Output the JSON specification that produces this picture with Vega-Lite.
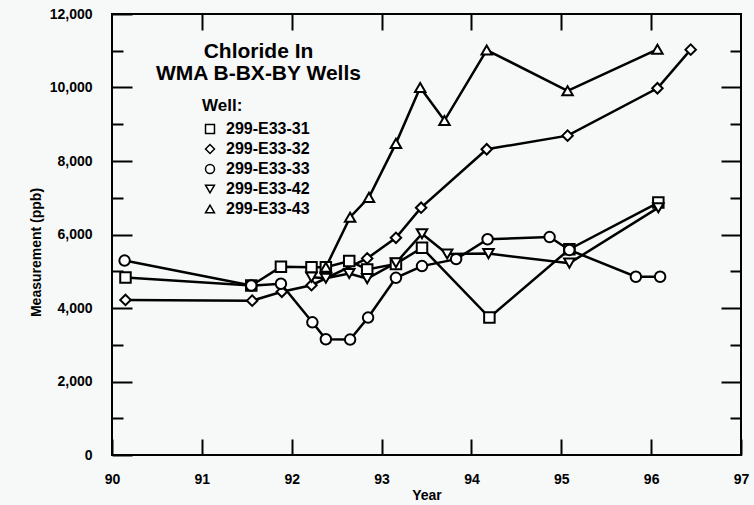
{
  "$schema": "https://vega.github.io/schema/vega-lite/v6.json",
  "width": 629,
  "height": 441,
  "autosize": "none",
  "padding": {"left": 112, "top": 14, "right": 13, "bottom": 50},
  "background": "#f7f9f9",
  "config": {
    "view": {"stroke": "black", "strokeWidth": 2},
    "font": "Liberation Sans",
    "axis": {"grid": false, "domain": false, "tickColor": "black", "tickWidth": 2, "labelColor": "black", "titleColor": "black", "labelFont": "Liberation Sans", "titleFont": "Liberation Sans", "labelFontWeight": "bold", "titleFontWeight": "bold", "labelFontSize": 14, "titleFontSize": 14}
  },
  "title": {
    "text": ["Chloride In", "WMA B-BX-BY Wells"],
    "anchor": "middle",
    "frame": "group",
    "baseline": "top",
    "offset": 0,
    "dx": -168,
    "dy": 77,
    "fontSize": 21,
    "lineHeight": 22,
    "font": "Liberation Sans",
    "fontWeight": "bold",
    "color": "black"
  },
  "data": {
    "values": [
      {"well": "299-E33-31", "year": 90.15, "ppb": 4830},
      {"well": "299-E33-31", "year": 91.55, "ppb": 4610},
      {"well": "299-E33-31", "year": 91.88, "ppb": 5120},
      {"well": "299-E33-31", "year": 92.22, "ppb": 5110},
      {"well": "299-E33-31", "year": 92.38, "ppb": 5110},
      {"well": "299-E33-31", "year": 92.64, "ppb": 5280},
      {"well": "299-E33-31", "year": 92.84, "ppb": 5050},
      {"well": "299-E33-31", "year": 93.16, "ppb": 5200},
      {"well": "299-E33-31", "year": 93.45, "ppb": 5640},
      {"well": "299-E33-31", "year": 94.2, "ppb": 3740},
      {"well": "299-E33-31", "year": 95.09, "ppb": 5600},
      {"well": "299-E33-31", "year": 96.08, "ppb": 6870},
      {"well": "299-E33-32", "year": 90.15, "ppb": 4220},
      {"well": "299-E33-32", "year": 91.56, "ppb": 4200},
      {"well": "299-E33-32", "year": 91.89, "ppb": 4440},
      {"well": "299-E33-32", "year": 92.22, "ppb": 4620},
      {"well": "299-E33-32", "year": 92.84, "ppb": 5350},
      {"well": "299-E33-32", "year": 93.16, "ppb": 5910},
      {"well": "299-E33-32", "year": 93.44, "ppb": 6730},
      {"well": "299-E33-32", "year": 94.17, "ppb": 8320},
      {"well": "299-E33-32", "year": 95.07, "ppb": 8690},
      {"well": "299-E33-32", "year": 96.07, "ppb": 9980},
      {"well": "299-E33-32", "year": 96.44, "ppb": 11030},
      {"well": "299-E33-33", "year": 90.14, "ppb": 5290},
      {"well": "299-E33-33", "year": 91.55, "ppb": 4610},
      {"well": "299-E33-33", "year": 91.88, "ppb": 4660},
      {"well": "299-E33-33", "year": 92.23, "ppb": 3610},
      {"well": "299-E33-33", "year": 92.38, "ppb": 3150},
      {"well": "299-E33-33", "year": 92.65, "ppb": 3140},
      {"well": "299-E33-33", "year": 92.85, "ppb": 3740},
      {"well": "299-E33-33", "year": 93.16, "ppb": 4820},
      {"well": "299-E33-33", "year": 93.45, "ppb": 5140},
      {"well": "299-E33-33", "year": 93.83, "ppb": 5330},
      {"well": "299-E33-33", "year": 94.18, "ppb": 5870},
      {"well": "299-E33-33", "year": 94.87, "ppb": 5930},
      {"well": "299-E33-33", "year": 95.09, "ppb": 5580},
      {"well": "299-E33-33", "year": 95.83, "ppb": 4850},
      {"well": "299-E33-33", "year": 96.1, "ppb": 4850},
      {"well": "299-E33-42", "year": 92.22, "ppb": 4840},
      {"well": "299-E33-42", "year": 92.38, "ppb": 4810},
      {"well": "299-E33-42", "year": 92.64, "ppb": 4940},
      {"well": "299-E33-42", "year": 92.84, "ppb": 4800},
      {"well": "299-E33-42", "year": 93.16, "ppb": 5230},
      {"well": "299-E33-42", "year": 93.45, "ppb": 6020},
      {"well": "299-E33-42", "year": 93.73, "ppb": 5470},
      {"well": "299-E33-42", "year": 94.19, "ppb": 5480},
      {"well": "299-E33-42", "year": 95.09, "ppb": 5220},
      {"well": "299-E33-42", "year": 96.08, "ppb": 6730},
      {"well": "299-E33-43", "year": 92.38, "ppb": 5110},
      {"well": "299-E33-43", "year": 92.65, "ppb": 6470},
      {"well": "299-E33-43", "year": 92.86, "ppb": 7010},
      {"well": "299-E33-43", "year": 93.16, "ppb": 8480},
      {"well": "299-E33-43", "year": 93.43, "ppb": 10000},
      {"well": "299-E33-43", "year": 93.7, "ppb": 9100},
      {"well": "299-E33-43", "year": 94.17, "ppb": 11020},
      {"well": "299-E33-43", "year": 95.07, "ppb": 9910},
      {"well": "299-E33-43", "year": 96.07, "ppb": 11040}
    ]
  },
  "layer": [
    {
      "mark": {"type": "line", "color": "black", "strokeWidth": 2.5},
      "encoding": {
        "x": {"field": "year", "type": "quantitative", "scale": {"domain": [90, 97], "nice": false, "zero": false}, "axis": null},
        "y": {"field": "ppb", "type": "quantitative", "scale": {"domain": [0, 12000], "nice": false}, "axis": null},
        "detail": {"field": "well"}
      }
    },
    {
      "mark": {"type": "point", "filled": true, "fill": "white", "stroke": "black", "strokeWidth": 2, "size": 110, "opacity": 1},
      "encoding": {
        "x": {"field": "year", "type": "quantitative", "title": "Year",
          "axis": {"orient": "bottom", "values": [90, 91, 92, 93, 94, 95, 96, 97], "tickSize": -16, "labelPadding": 33, "labelFlush": false, "titleY": 40, "titleBaseline": "middle"}},
        "y": {"field": "ppb", "type": "quantitative", "title": "Measurement (ppb)",
          "axis": {"orient": "left", "values": [0, 1000, 2000, 3000, 4000, 5000, 6000, 7000, 8000, 9000, 10000, 11000, 12000], "labelExpr": "datum.value % 2000 == 0 ? format(datum.value, ',') : ''",
            "tickSize": {"condition": {"test": "datum.value % 2000 == 0", "value": -20}, "value": -11},
            "labelPadding": 40, "titleX": -76, "titleY": 238, "titleAngle": -90, "titleAlign": "center", "titleBaseline": "middle"}},
        "shape": {"field": "well", "type": "nominal",
          "scale": {"domain": ["299-E33-31", "299-E33-32", "299-E33-33", "299-E33-42", "299-E33-43"], "range": ["square", "diamond", "circle", "triangle-down", "triangle-up"]},
          "legend": {"title": "Well:", "orient": "none", "legendX": 90, "legendY": 84, "padding": 0, "titleFontSize": 17, "titleFontWeight": "bold", "titleColor": "black", "titlePadding": 6, "labelFontSize": 16, "labelFontWeight": "bold", "labelColor": "black", "labelOffset": 8, "symbolSize": 80, "rowPadding": 4,
            "encode": {"symbols": {"update": {"stroke": {"value": "black"}, "strokeWidth": {"value": 2}, "fill": {"value": "white"}, "opacity": {"value": 1}}}}}}
      }
    },
    {
      "mark": {"type": "point", "opacity": 0},
      "encoding": {
        "x": {"field": "year", "type": "quantitative", "axis": {"orient": "top", "values": [91, 92, 93, 94, 95, 96], "tickSize": -16, "labels": false, "title": null}},
        "y": {"field": "ppb", "type": "quantitative", "axis": {"orient": "right", "values": [1000, 2000, 3000, 4000, 5000, 6000, 7000, 8000, 9000, 10000, 11000],
          "tickSize": {"condition": {"test": "datum.value % 2000 == 0", "value": -20}, "value": -11}, "labels": false, "title": null}}
      }
    }
  ],
  "resolve": {"axis": {"x": "independent", "y": "independent"}}
}
